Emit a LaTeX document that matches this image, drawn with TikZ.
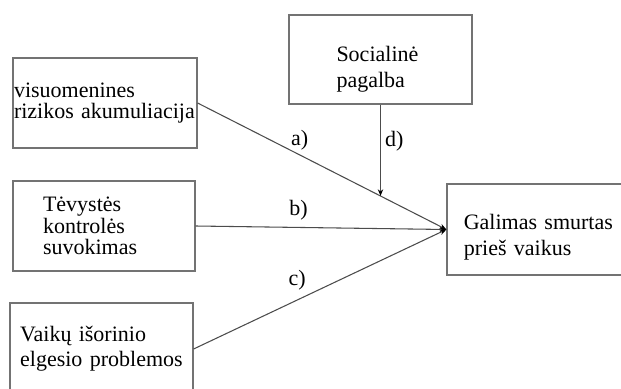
\documentclass[tikz,border=0pt]{standalone}
\usepackage{fontspec}
\setmainfont{Liberation Serif}
\usetikzlibrary{arrows.meta,calc}

\begin{document}
\begin{tikzpicture}[x=0.75pt,y=-0.75pt,
  box/.style={draw=black!55, line width=0.9pt, align=left, inner ysep=0pt,
    font=\fontsize{16.5}{19}\selectfont},
  link/.style={draw=black!70, line width=0.8pt,
    -{Stealth[length=5pt,width=4pt,black]}},
  lbl/.style={font=\fontsize{16.5}{18.5}\selectfont, inner sep=1pt}]
  \clip (0,0) rectangle (621,389);

  % Boxes
  \node[box, minimum width=138pt, minimum height=67.5pt, text width=136.5pt,
    inner xsep=0.75pt, font=\fontsize{16.5}{16}\selectfont]
    (vis) at (105,103) {visuomenines\\rizikos akumuliacija};
  \node[box, minimum width=136.5pt, minimum height=67.5pt, text width=91.5pt,
    inner xsep=22.5pt, font=\fontsize{16.5}{16}\selectfont]
    (tev) at (104,226) {Tėvystės\\kontrolės\\suvokimas};
  \node[box, minimum width=137.25pt, minimum height=69pt, text width=122pt,
    inner xsep=7.6pt] (vai) at (101.5,349) {Vaikų išorinio\\elgesio problemos};
  \node[box, minimum width=137.25pt, minimum height=66.75pt, text width=66pt,
    inner xsep=35.6pt, text depth=8pt] (soc) at (380.5,59.5) {Socialinė\\pagalba};
  \node[box, minimum width=137.25pt, minimum height=68.25pt, text width=112pt,
    inner xsep=12.6pt, text depth=11pt] (gal) at (538.5,229.5) {Galimas smurtas\\prieš vaikus};

  % Paths
  \draw[link] (vis.east) -- (gal.west) node[lbl, pos=0.41, above=2pt] (la) {a)};
  \draw[link] (tev.east) -- (gal.west) node[lbl, pos=0.41, above=4pt] (lb) {b)};
  \draw[link] (vai.east) -- (gal.west) node[lbl, pos=0.41, above=6pt] (lc) {c)};

  % Moderator
  \path (vis.east) -- (gal.west) coordinate[pos=0.735] (meet);
  \draw[link] (soc.south) -- (soc.south |- meet)
    node[lbl, pos=0.4, right=2pt] (ld) {d)};
\end{tikzpicture}
\end{document}
